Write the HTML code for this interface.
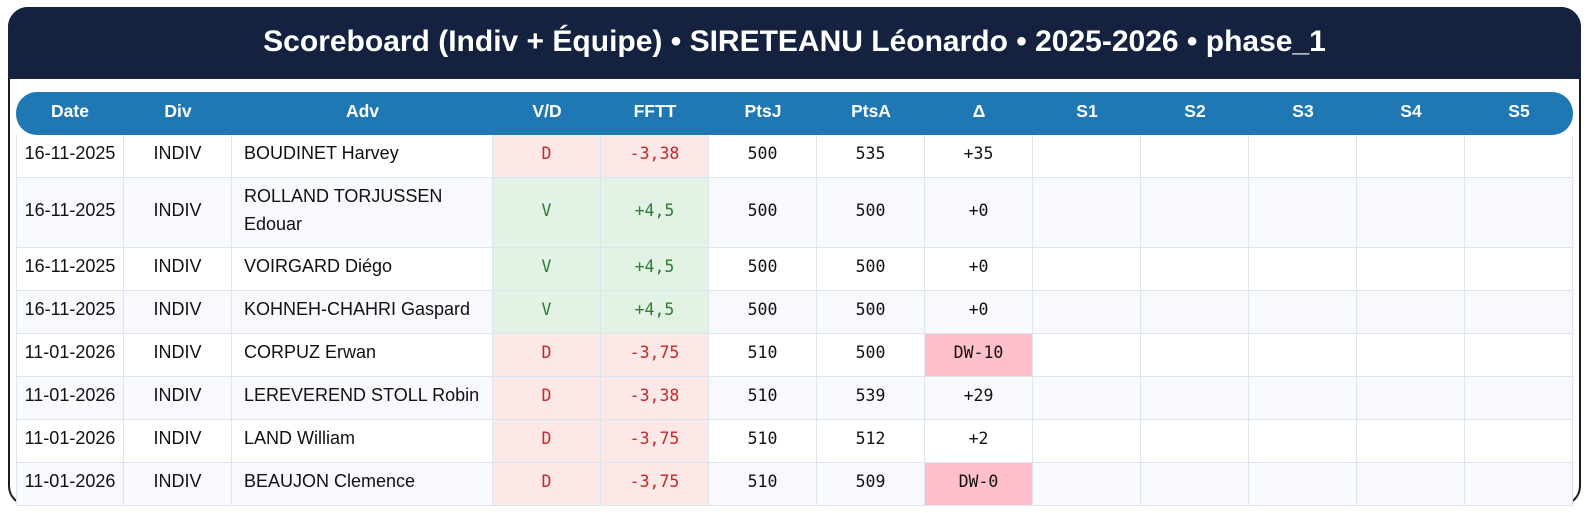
<!DOCTYPE html>
<html><head><meta charset="utf-8"><style>
html,body{margin:0;padding:0;background:#fff;}
body{width:1588px;height:513px;position:relative;overflow:hidden;font-family:"Liberation Sans",sans-serif;}
.card{position:absolute;left:8px;top:7px;width:1573px;height:499px;box-sizing:border-box;border:2px solid #1c1c1c;border-radius:20px;background:#fff;}
.top{position:absolute;left:8px;top:7px;width:1573px;height:72px;background:#15223f;border-radius:20px 20px 0 0;}
.title{position:absolute;left:8px;width:1573px;top:25px;line-height:34px;text-align:center;color:#fff;font-weight:bold;font-size:30px;}
.hdr{position:absolute;left:16px;top:92px;width:1557px;height:43px;background:#1f77b4;border-radius:21px;display:grid;grid-template-columns:108px 108px 261px repeat(10,108px);}
.hdr div{color:#fff;font-weight:bold;font-size:17.5px;display:flex;align-items:center;justify-content:center;height:43px;box-sizing:border-box;padding-bottom:4px;}
.grid{position:absolute;left:16px;top:135px;display:grid;grid-template-columns:108px 108px 261px repeat(10,108px);grid-template-rows:43px 70px repeat(6,43px);}
.grid div{box-sizing:border-box;border-right:1px solid #dde4ef;border-bottom:1px solid #dde4ef;display:flex;align-items:center;justify-content:center;font-size:18px;line-height:28px;color:#111;padding-bottom:6px;}
.grid div.f{border-left:1px solid #dde4ef;}
.grid div.a{justify-content:flex-start;padding-left:12px;}
.grid div.m{font-family:"DejaVu Sans Mono",monospace;font-size:16.5px;padding-bottom:4px;}
.grid div.w{background:#fff;}
.grid div.l{background:#f7f9fd;}
.grid div.d{background:#fde8e8;color:#c62828;}
.grid div.v{background:#e2f3e5;color:#2e7d32;}
.grid div.p{background:#ffc0cb;}
</style></head><body>
<div class="card"></div>
<div class="top"></div>
<div class="title">Scoreboard (Indiv + Équipe) • SIRETEANU Léonardo • 2025-2026 • phase_1</div>
<div class="hdr"><div>Date</div><div>Div</div><div>Adv</div><div>V/D</div><div>FFTT</div><div>PtsJ</div><div>PtsA</div><div>Δ</div><div>S1</div><div>S2</div><div>S3</div><div>S4</div><div>S5</div></div>
<div class="grid">
<div class="w f">16-11-2025</div><div class="w">INDIV</div><div class="w a">BOUDINET Harvey</div><div class="m d">D</div><div class="m d">-3,38</div><div class="w m">500</div><div class="w m">535</div><div class="w m">+35</div><div class="w"></div><div class="w"></div><div class="w"></div><div class="w"></div><div class="w"></div>
<div class="l f">16-11-2025</div><div class="l">INDIV</div><div class="l a">ROLLAND TORJUSSEN<br>Edouar</div><div class="m v">V</div><div class="m v">+4,5</div><div class="l m">500</div><div class="l m">500</div><div class="l m">+0</div><div class="l"></div><div class="l"></div><div class="l"></div><div class="l"></div><div class="l"></div>
<div class="w f">16-11-2025</div><div class="w">INDIV</div><div class="w a">VOIRGARD Diégo</div><div class="m v">V</div><div class="m v">+4,5</div><div class="w m">500</div><div class="w m">500</div><div class="w m">+0</div><div class="w"></div><div class="w"></div><div class="w"></div><div class="w"></div><div class="w"></div>
<div class="l f">16-11-2025</div><div class="l">INDIV</div><div class="l a">KOHNEH-CHAHRI Gaspard</div><div class="m v">V</div><div class="m v">+4,5</div><div class="l m">500</div><div class="l m">500</div><div class="l m">+0</div><div class="l"></div><div class="l"></div><div class="l"></div><div class="l"></div><div class="l"></div>
<div class="w f">11-01-2026</div><div class="w">INDIV</div><div class="w a">CORPUZ Erwan</div><div class="m d">D</div><div class="m d">-3,75</div><div class="w m">510</div><div class="w m">500</div><div class="m p">DW-10</div><div class="w"></div><div class="w"></div><div class="w"></div><div class="w"></div><div class="w"></div>
<div class="l f">11-01-2026</div><div class="l">INDIV</div><div class="l a">LEREVEREND STOLL Robin</div><div class="m d">D</div><div class="m d">-3,38</div><div class="l m">510</div><div class="l m">539</div><div class="l m">+29</div><div class="l"></div><div class="l"></div><div class="l"></div><div class="l"></div><div class="l"></div>
<div class="w f">11-01-2026</div><div class="w">INDIV</div><div class="w a">LAND William</div><div class="m d">D</div><div class="m d">-3,75</div><div class="w m">510</div><div class="w m">512</div><div class="w m">+2</div><div class="w"></div><div class="w"></div><div class="w"></div><div class="w"></div><div class="w"></div>
<div class="l f">11-01-2026</div><div class="l">INDIV</div><div class="l a">BEAUJON Clemence</div><div class="m d">D</div><div class="m d">-3,75</div><div class="l m">510</div><div class="l m">509</div><div class="m p">DW-0</div><div class="l"></div><div class="l"></div><div class="l"></div><div class="l"></div><div class="l"></div>
</div>
</body></html>
